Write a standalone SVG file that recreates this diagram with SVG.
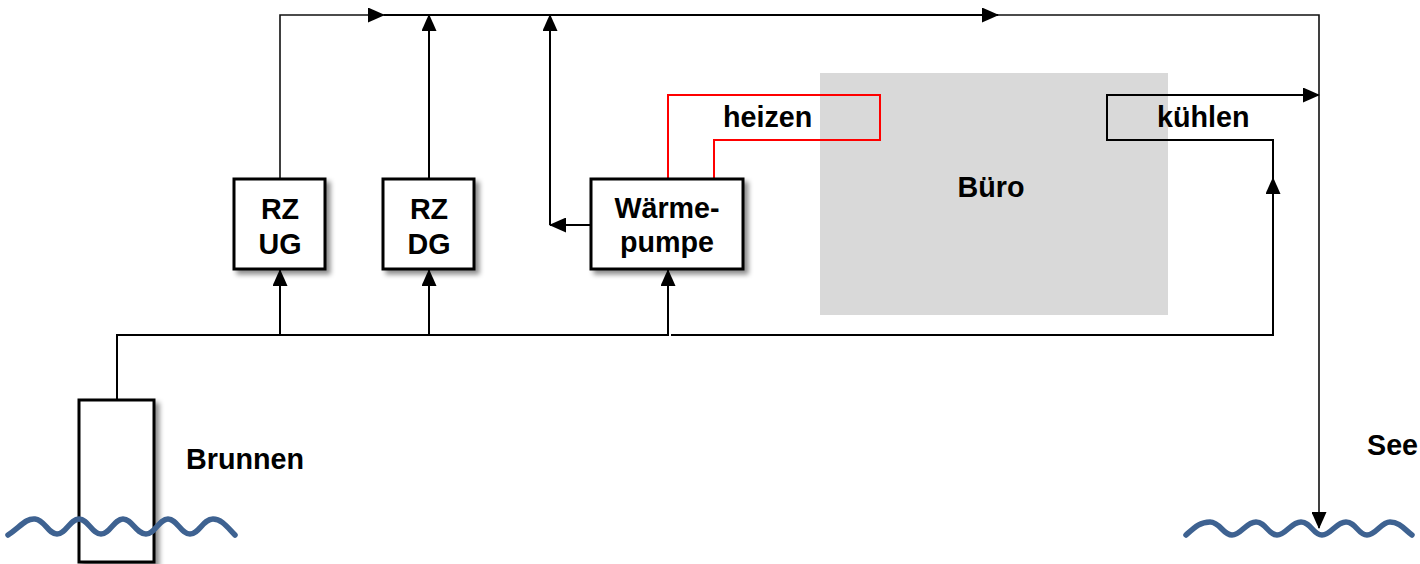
<svg xmlns="http://www.w3.org/2000/svg" width="1420" height="564" viewBox="0 0 1420 564">
  <defs>
    <marker id="arrow" markerUnits="userSpaceOnUse" markerWidth="17" markerHeight="15" viewBox="0 0 17 15" refX="16" refY="7.5" orient="auto">
      <path d="M0 0 L17 7.5 L0 15 z" fill="#000"/>
    </marker>
    <filter id="shadow" x="-20%" y="-20%" width="150%" height="150%">
      <feDropShadow dx="4" dy="4" stdDeviation="2.5" flood-color="#000" flood-opacity="0.45"/>
    </filter>
  </defs>
  <style>
    .box { fill: #fff; stroke: #000; stroke-width: 3; filter: url(#shadow); }
    .line { fill: none; stroke: #000; stroke-width: 2; }
    .thin { fill: none; stroke: #111; stroke-width: 1.6; }
    .hot { fill: none; stroke: #ff0000; stroke-width: 2; }
    .wave { fill: none; stroke: #3e6291; stroke-width: 5.5; stroke-linecap: round; }
    .lbl { font-family: "Liberation Sans", Arial, sans-serif; font-weight: bold; font-size: 28.7px; fill: #000; }
    .mid { text-anchor: middle; }
  </style>

  <!-- office area -->
  <g id="buero">
    <rect x="820" y="73" width="348" height="242" fill="#d9d9d9"/>
    <text class="lbl mid" x="991" y="197">Büro</text>
  </g>

  <!-- piping -->
  <g id="connectors">
    <!-- supply from well -->
    <path class="line" d="M117 400 V335 H668 V270" marker-end="url(#arrow)"/>
    <path class="line" d="M280 335 V270" marker-end="url(#arrow)"/>
    <path class="line" d="M429 335 V270" marker-end="url(#arrow)"/>
    <path class="line" d="M671 335 H1273 V178" marker-end="url(#arrow)"/>
    <!-- cooling loop -->
    <path class="line" d="M1273 179 V140 H1107 V95 H1319" marker-end="url(#arrow)"/>
    <!-- return collector -->
    <path class="thin" d="M280 179 V15 H384" marker-end="url(#arrow)"/>
    <path class="line" d="M384 15 H998" marker-end="url(#arrow)"/>
    <path class="thin" d="M998 15 H1319 V528" marker-end="url(#arrow)"/>
    <path class="line" d="M429 179 V15" marker-end="url(#arrow)"/>
    <path class="line" d="M591 225 H550" marker-end="url(#arrow)"/>
    <path class="line" d="M550 225 V15" marker-end="url(#arrow)"/>
    <!-- heating loop -->
    <path class="hot" d="M668 179 V95 H880 V140 H714 V179"/>
  </g>

  <g id="rz-ug">
    <rect class="box" x="234" y="179" width="91" height="90"/>
    <text class="lbl mid" x="280" y="219">RZ</text>
    <text class="lbl mid" x="280" y="254">UG</text>
  </g>

  <g id="rz-dg">
    <rect class="box" x="383" y="179" width="91" height="90"/>
    <text class="lbl mid" x="429" y="219">RZ</text>
    <text class="lbl mid" x="429" y="254">DG</text>
  </g>

  <g id="waermepumpe">
    <rect class="box" x="591" y="179" width="152" height="90"/>
    <text class="lbl mid" x="667" y="218">Wärme-</text>
    <text class="lbl mid" x="667" y="252">pumpe</text>
  </g>

  <g id="heizen">
    <text class="lbl" x="723" y="127">heizen</text>
  </g>

  <g id="kuehlen">
    <text class="lbl" x="1157" y="127">kühlen</text>
  </g>

  <g id="brunnen">
    <rect class="box" x="79" y="400" width="75" height="162"/>
    <path class="wave" d="M8 535 C20 527 26 518 35 519 C45 520 48 534 57 534 C66 534 70 519 79 519 C88 519 92 534 101 534 C110 534 114 519 123 519 C132 519 136 534 146 534 C155 534 159 519 168 519 C177 519 181 534 190 534 C199 534 203 519 213 519 C222 519 228 528 235 535"/>
    <text class="lbl" x="186" y="469">Brunnen</text>
  </g>

  <g id="see">
    <path class="wave" d="M1186 535 C1195 527 1200 522 1210 522 C1220 522 1223 535 1232 535 C1241 535 1246 522 1256 522 C1266 522 1268 535 1277 535 C1286 535 1291 522 1301 522 C1311 522 1313 535 1322 535 C1331 535 1336 522 1346 522 C1356 522 1358 535 1367 535 C1376 535 1381 522 1390 522 C1400 522 1405 530 1412 535"/>
    <text class="lbl" x="1367" y="455">See</text>
  </g>
</svg>
